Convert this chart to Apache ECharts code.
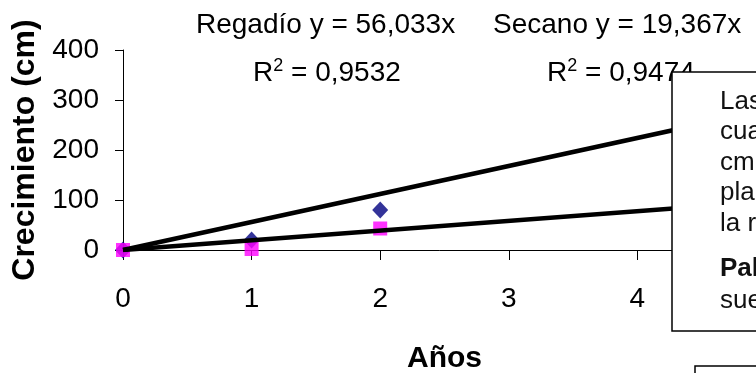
<!DOCTYPE html>
<html>
<head>
<meta charset="utf-8">
<script src="https://cdn.jsdelivr.net/npm/echarts@6/dist/echarts.min.js"></script>
<style>
html,body{margin:0;padding:0;background:#fff;}
#chart{width:756px;height:373px;}
</style>
</head>
<body>
<div id="chart"></div>
<script>
// ---- data ----
var years = [0, 1, 2];
var regadio = [0, 20, 80];
var secano = [0, 2, 43];
var xTicks = [0, 1, 2, 3, 4, 5];
var yTicks = [0, 100, 200, 300, 400];
// trend lines as given by the chart equations (y = 56,033x ; y = 19,367x)
var trendX = [0, 5];
var trendRegadio = [0, 280.165];
var trendSecano = [0, 96.835];
var boxLines = ['Las', 'cua', 'cm', 'pla', 'la r'];
var boxLines2 = ['Pal', 'sue'];

function pairs(xs, ys){ return xs.map(function(x,i){ return [x, ys[i]]; }); }

var FONT = '"Liberation Sans", Arial, sans-serif';
var chart = echarts.init(document.getElementById('chart'), null, {renderer:'canvas'});

var graphics = [
  {type:'text', x:196, y:25, z:50, style:{text:'Regadío y = 56,033x', font:'28px ' + FONT, fill:'#000', verticalAlign:'middle'}},
  {type:'text', x:253, y:72, z:50, style:{text:'{n|R}{s|2}{n| = 0,9532}', verticalAlign:'middle',
    rich:{n:{fontSize:28, fontFamily:FONT, color:'#000', lineHeight:30, verticalAlign:'bottom'}, s:{fontSize:18, fontFamily:FONT, color:'#000', lineHeight:30, verticalAlign:'top'}}}},
  {type:'text', x:493, y:25, z:50, style:{text:'Secano y = 19,367x', font:'28px ' + FONT, fill:'#000', verticalAlign:'middle'}},
  {type:'text', x:547, y:72, z:50, style:{text:'{n|R}{s|2}{n| = 0,9474}', verticalAlign:'middle',
    rich:{n:{fontSize:28, fontFamily:FONT, color:'#000', lineHeight:30, verticalAlign:'bottom'}, s:{fontSize:18, fontFamily:FONT, color:'#000', lineHeight:30, verticalAlign:'top'}}}},
  {type:'rect', z:100, shape:{x:672, y:72, width:200, height:259}, style:{fill:'#fff', stroke:'#000', lineWidth:1.5}},
  {type:'rect', z:100, shape:{x:695, y:366, width:200, height:50}, style:{fill:'#fff', stroke:'#000', lineWidth:1.5}}
];
var mids1 = [102, 132, 163, 193, 224];
boxLines.forEach(function(t,i){
  graphics.push({type:'text', x:720, y:mids1[i], z:110, style:{text:t, font:'26px ' + FONT, fill:'#111', verticalAlign:'middle'}});
});
var mids2 = [269, 301];
boxLines2.forEach(function(t,i){
  graphics.push({type:'text', x:720, y:mids2[i], z:110, style:{text:t, font:(i===0?'bold ':'') + '26px ' + FONT, fill:'#111', verticalAlign:'middle'}});
});

chart.setOption({
  animation:false,
  backgroundColor:'#fff',
  textStyle:{fontFamily:FONT},
  grid:{left:123, top:50, width:643, height:200, containLabel:false, outerBoundsMode:'none'},
  xAxis:{
    type:'value', min:xTicks[0], max:xTicks[xTicks.length-1], interval:1,
    name:'Años', nameLocation:'middle', nameGap:94,
    nameTextStyle:{fontSize:30, fontWeight:'bold', color:'#000', fontFamily:FONT},
    axisLine:{show:true, onZero:false, lineStyle:{color:'#000', width:1}},
    axisTick:{show:true, inside:false, length:10, lineStyle:{color:'#000'}},
    axisLabel:{fontSize:28, color:'#000', margin:35, fontFamily:FONT},
    splitLine:{show:false}
  },
  yAxis:{
    type:'value', min:yTicks[0], max:yTicks[yTicks.length-1], interval:100,
    name:'Crecimiento (cm)', nameLocation:'middle', nameGap:73, nameRotate:90,
    nameTextStyle:{fontSize:32, fontWeight:'bold', color:'#000', fontFamily:FONT},
    axisLine:{show:true, lineStyle:{color:'#000', width:1}},
    axisTick:{show:true, inside:false, length:8, lineStyle:{color:'#000'}},
    axisLabel:{fontSize:28, color:'#000', margin:24, fontFamily:FONT},
    splitLine:{show:false}
  },
  series:[
    {name:'Regadío', type:'scatter', data:pairs(years, regadio), symbol:'diamond', symbolSize:[16,17], itemStyle:{color:'#000080'}, z:2},
    {name:'Secano', type:'scatter', data:pairs(years, secano), symbol:'rect', symbolSize:14, itemStyle:{color:'#FF00FF'}, z:3},
    {name:'Lineal (Regadío)', type:'line', data:pairs(trendX, trendRegadio), showSymbol:false, symbol:'none', lineStyle:{color:'#000', width:4.5}, z:5, silent:true},
    {name:'Lineal (Secano)', type:'line', data:pairs(trendX, trendSecano), showSymbol:false, symbol:'none', lineStyle:{color:'#000', width:4.5}, z:5, silent:true}
  ],
  graphic:graphics
});
</script>
</body>
</html>
